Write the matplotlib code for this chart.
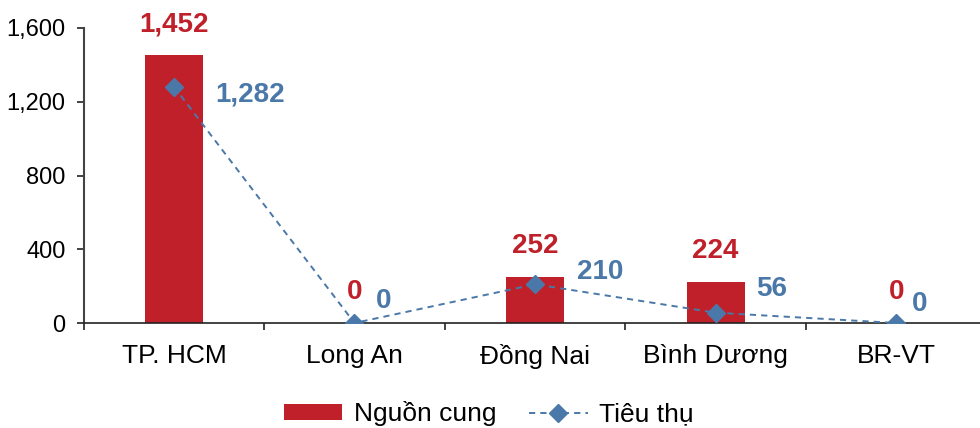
import numpy as np
import matplotlib as mpl
mpl.use("Agg")
import matplotlib.pyplot as plt
from matplotlib.ticker import FixedLocator, FuncFormatter

# Supply vs absorption by province
provinces = ["TP. HCM", "Long An", "Đồng Nai", "Bình Dương", "BR-VT"]
supply = [1452, 0, 252, 224, 0]
absorption = [1282, 0, 210, 56, 0]

red = "#C0202A"
blue = "#4A78A8"

plt.rcParams["font.family"] = ["Liberation Sans", "DejaVu Sans"]

fig = plt.figure(figsize=(9.8, 4.28), dpi=100)
ax = fig.add_axes([0.0853, 0.2453, 0.9214, 0.6893])

x = np.arange(len(provinces))
bars = ax.bar(x, supply, width=0.32, color=red, label="Nguồn cung", zorder=2)
line, = ax.plot(x, absorption, color=blue, lw=1.4, ls=(0, (3.2, 2.6)), marker="D",
                ms=9.5, label="Tiêu thụ", zorder=3)

# value labels: supply above the bar, absorption to the right of the marker
for xi, v in zip(x, supply):
    ax.annotate(f"{v:,}", (xi, v), xytext=(0, 22), textcoords="offset points",
                ha="center", va="center", color=red, fontsize=20,
                fontweight="bold")

blue_off = [(55, -6), (21, 16), (47, 9), (40, 17), (17, 14)]
for xi, v, (dx, dy) in zip(x, absorption, blue_off):
    ax.annotate(f"{v:,}", (xi, v), xytext=(dx, dy), textcoords="offset points",
                ha="center", va="center", color=blue, fontsize=20,
                fontweight="bold")

ax.set_xlim(-0.5, len(provinces) - 0.5)
ax.set_ylim(0, 1600)
ax.set_yticks([0, 400, 800, 1200, 1600])
ax.yaxis.set_major_formatter(FuncFormatter(lambda v, p: f"{int(v):,}"))

ax.set_xticks(x)
ax.set_xticklabels(provinces)
ax.xaxis.set_minor_locator(FixedLocator(np.arange(len(provinces) + 1) - 0.5))
ax.tick_params(axis="x", which="major", length=0, pad=15, labelsize=19)
ax.tick_params(axis="x", which="minor", length=5, width=1.2, direction="out",
               color="#222222")
ax.tick_params(axis="y", length=5, width=1.2, pad=8, labelsize=17,
               color="#222222")

for s in ["top", "right"]:
    ax.spines[s].set_visible(False)
ax.spines["left"].set_color("#444444")
ax.spines["left"].set_linewidth(1.5)
ax.spines["bottom"].set_color("#222222")
ax.spines["bottom"].set_linewidth(1.2)

fig.legend(handles=[bars, line], loc="center", bbox_to_anchor=(0.499, 0.033),
           ncol=2, frameon=False, fontsize=19, handlelength=2.2,
           handleheight=0.5, handletextpad=0.45, columnspacing=1.25)

fig.savefig("out.png", dpi=100)
